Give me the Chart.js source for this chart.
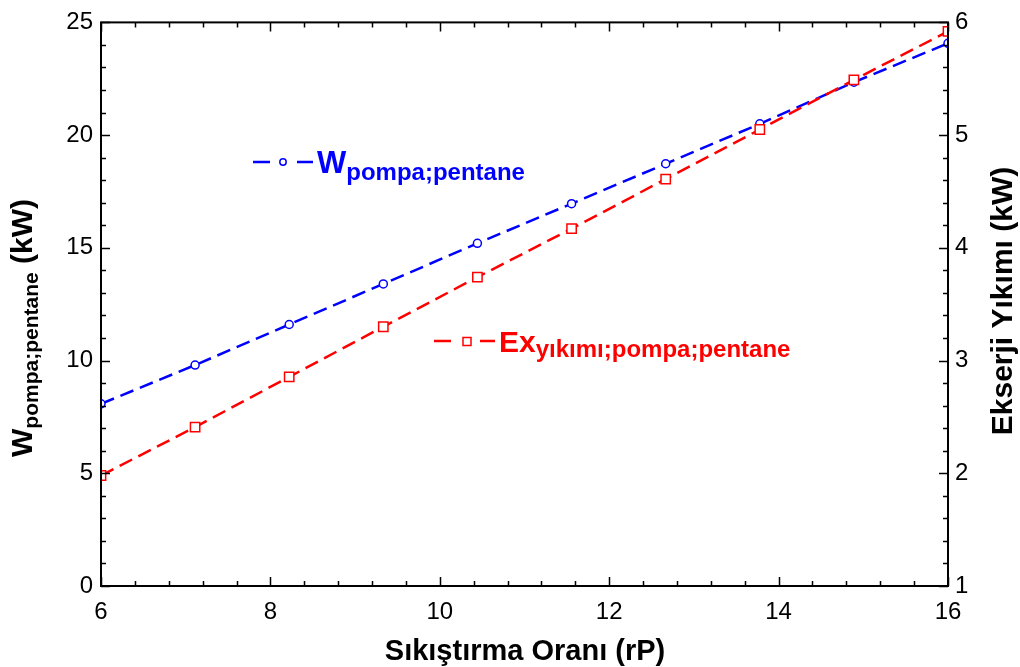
<!DOCTYPE html>
<html>
<head>
<meta charset="utf-8">
<script src="https://cdn.jsdelivr.net/npm/chart.js@4.4.1/dist/chart.umd.min.js"></script>
<style>
  html, body { margin: 0; padding: 0; background: #fff; }
  #wrap { width: 1020px; height: 667px; }
</style>
</head>
<body>
<div id="wrap"><canvas id="c" width="1020" height="667"></canvas></div>
<script>
// ──────────────── 数据 ────────────────
const rP = [6, 7.111, 8.222, 9.333, 10.444, 11.556, 12.667, 13.778, 14.889, 16];
const wPompa = [8.08, 9.8, 11.6, 13.4, 15.2, 16.96, 18.73, 20.5, 22.35, 24.07];
const exYikimi = [1.98, 2.41, 2.855, 3.30, 3.74, 4.17, 4.61, 5.05, 5.49, 5.92];

const xTicks = [6, 8, 10, 12, 14, 16];
const yLeftTicks = [0, 5, 10, 15, 20, 25];
const yRightTicks = [1, 2, 3, 4, 5, 6];

const BLUE = '#0000ff', RED = '#ff0000';
const TICK_FONT = "'Liberation Sans Narrow', 'Liberation Sans', Arial, sans-serif";
const TEXT_FONT = "'Liberation Sans', Arial, sans-serif";

// ──────────────── 工具 ────────────────
function drawRich(ctx, parts, x, y) {
  let cx = x;
  parts.forEach(p => {
    ctx.font = `bold ${p.size}px ${TEXT_FONT}`;
    ctx.fillText(p.text, cx, y + (p.dy || 0));
    cx += ctx.measureText(p.text).width;
  });
}

function tickRun(from, to, step) {
  const out = [];
  const n = Math.round((to - from) / step);
  for (let i = 0; i <= n; i++) out.push(+(from + i * step).toFixed(4));
  return out;
}

// 边框 + 内向刻度 + 标题 + 图内图例
const decor = {
  id: 'decor',
  afterDatasetsDraw(chart) {
    const ctx = chart.ctx;
    const { left, right, top, bottom } = chart.chartArea;
    const sx = chart.scales.x, sy = chart.scales.y, sy1 = chart.scales.y1;
    ctx.save();
    ctx.strokeStyle = '#000';
    ctx.lineWidth = 1.5;

    // x 刻度 (上下)
    tickRun(6, 16, 0.4).forEach(v => {
      const px = Math.round(sx.getPixelForValue(v)) + 0.5;
      const major = xTicks.some(t => Math.abs(t - v) < 1e-6);
      const len = major ? 9 : 5;
      ctx.beginPath();
      ctx.moveTo(px, bottom); ctx.lineTo(px, bottom - len);
      ctx.moveTo(px, top); ctx.lineTo(px, top + len);
      ctx.stroke();
    });
    // 左轴刻度
    tickRun(0, 25, 1).forEach(v => {
      const py = Math.round(sy.getPixelForValue(v)) + 0.5;
      const len = yLeftTicks.includes(v) ? 9 : 5;
      ctx.beginPath(); ctx.moveTo(left, py); ctx.lineTo(left + len, py); ctx.stroke();
    });
    // 右轴刻度
    tickRun(1, 6, 0.2).forEach(v => {
      const py = Math.round(sy1.getPixelForValue(v)) + 0.5;
      const len = yRightTicks.some(t => Math.abs(t - v) < 1e-6) ? 9 : 5;
      ctx.beginPath(); ctx.moveTo(right, py); ctx.lineTo(right - len, py); ctx.stroke();
    });

    // 边框
    ctx.lineWidth = 2;
    ctx.strokeRect(left, top, right - left, bottom - top);

    // 图内图例 — 蓝
    ctx.lineWidth = 2.5;
    ctx.strokeStyle = BLUE;
    ctx.beginPath();
    ctx.moveTo(253, 162); ctx.lineTo(270, 162);
    ctx.moveTo(297, 162); ctx.lineTo(313, 162);
    ctx.stroke();
    ctx.lineWidth = 1.5;
    ctx.fillStyle = '#fff';
    ctx.beginPath(); ctx.arc(283, 162, 3.2, 0, Math.PI * 2); ctx.fill(); ctx.stroke();
    ctx.fillStyle = BLUE;
    ctx.textAlign = 'left'; ctx.textBaseline = 'alphabetic';
    drawRich(ctx, [{ text: 'W', size: 31 }, { text: 'pompa;pentane', size: 24, dy: 7 }], 317, 173);

    // 图内图例 — 红
    ctx.lineWidth = 2.5;
    ctx.strokeStyle = RED;
    ctx.beginPath();
    ctx.moveTo(434, 341); ctx.lineTo(451, 341);
    ctx.moveTo(480, 341); ctx.lineTo(495, 341);
    ctx.stroke();
    ctx.lineWidth = 1.5;
    ctx.fillStyle = '#fff';
    ctx.fillRect(463, 337.5, 8, 8); ctx.strokeRect(463, 337.5, 8, 8);
    ctx.fillStyle = RED;
    drawRich(ctx, [{ text: 'Ex', size: 30 }, { text: 'yıkımı;pompa;pentane', size: 24, dy: 5 }], 499, 352);

    // 轴标题
    ctx.fillStyle = '#000';
    ctx.save();
    ctx.translate(32, 457);
    ctx.rotate(-Math.PI / 2);
    drawRich(ctx, [{ text: 'W', size: 30 }, { text: 'pompa;pentane', size: 21, dy: 6 }, { text: ' (kW)', size: 30 }], 0, 0);
    ctx.restore();

    ctx.save();
    ctx.translate(1012, 301);
    ctx.rotate(-Math.PI / 2);
    ctx.textAlign = 'center';
    ctx.font = `bold 30px ${TEXT_FONT}`;
    ctx.fillText('Ekserji Yıkımı (kW)', 0, 0);
    ctx.restore();

    ctx.textAlign = 'center';
    ctx.font = `bold 29px ${TEXT_FONT}`;
    ctx.fillText('Sıkıştırma Oranı (rP)', 525, 660);
    ctx.restore();
  }
};

// ──────────────── 图表 ────────────────
const tickFont = { family: TICK_FONT, size: 24 };

new Chart(document.getElementById('c'), {
  type: 'line',
  data: {
    datasets: [
      {
        label: 'W pompa;pentane',
        data: rP.map((x, i) => ({ x, y: wPompa[i] })),
        yAxisID: 'y',
        order: 2,
        borderColor: BLUE, borderWidth: 2.5, borderDash: [14, 7],
        pointStyle: 'circle', pointRadius: 4, pointBorderWidth: 1.5,
        pointBorderColor: BLUE, pointBackgroundColor: '#fff',
        tension: 0, clip: 0,
      },
      {
        label: 'Ex yıkımı;pompa;pentane',
        data: rP.map((x, i) => ({ x, y: exYikimi[i] })),
        yAxisID: 'y1',
        order: 1,
        borderColor: RED, borderWidth: 2.5, borderDash: [14, 7],
        pointStyle: 'rect', pointRadius: 6.6, pointBorderWidth: 1.5,
        pointBorderColor: RED, pointBackgroundColor: '#fff',
        tension: 0, clip: 0,
      },
    ]
  },
  options: {
    responsive: false,
    animation: false,
    devicePixelRatio: 1,
    layout: { padding: { top: 21, left: 0, right: 0, bottom: 0 } },
    plugins: { legend: { display: false }, tooltip: { enabled: false } },
    scales: {
      x: {
        type: 'linear', min: 6, max: 16,
        afterBuildTicks: s => { s.ticks = xTicks.map(v => ({ value: v })); },
        afterFit: s => { s.height = 81; },
        grid: { display: false, drawTicks: false },
        border: { display: false },
        ticks: { font: tickFont, color: '#000', padding: 12, maxRotation: 0 },
      },
      y: {
        position: 'left', min: 0, max: 25,
        afterBuildTicks: s => { s.ticks = yLeftTicks.map(v => ({ value: v })); },
        afterFit: s => { s.width = 101; },
        grid: { display: false, drawTicks: false },
        border: { display: false },
        ticks: { font: tickFont, color: '#000', padding: 8 },
      },
      y1: {
        position: 'right', min: 1, max: 6,
        afterBuildTicks: s => { s.ticks = yRightTicks.map(v => ({ value: v })); },
        afterFit: s => { s.width = 72; },
        grid: { display: false, drawTicks: false },
        border: { display: false },
        ticks: { font: tickFont, color: '#000', padding: 7 },
      },
    }
  },
  plugins: [decor]
});
</script>
</body>
</html>
